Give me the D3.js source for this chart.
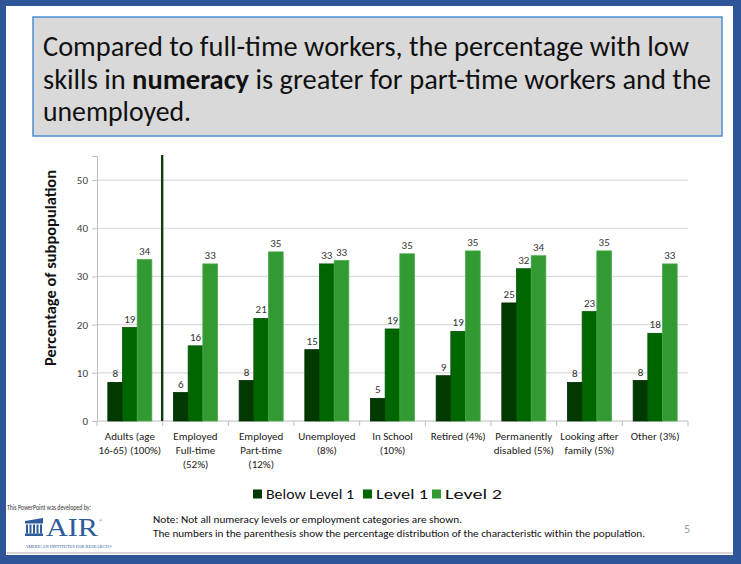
<!DOCTYPE html>
<html>
<head>
<meta charset="utf-8">
<script src="https://cdn.jsdelivr.net/npm/d3@7"></script>
<style>
  html, body { margin: 0; padding: 0; background: #fff; }
  svg { display: block; }
  text { font-family: Carlito, Calibri, "Open Sans", "Noto Sans", sans-serif; }
</style>
</head>
<body>
<svg id="chart" width="741" height="564"></svg>
<script>
// ---- data ----
const categories = [
  "Adults (age\n16-65) (100%)",
  "Employed\nFull-time\n(52%)",
  "Employed\nPart-time\n(12%)",
  "Unemployed\n(8%)",
  "In School\n(10%)",
  "Retired (4%)",
  "Permanently\ndisabled (5%)",
  "Looking after\nfamily (5%)",
  "Other (3%)"
];
const seriesNames = ["Below Level 1", "Level 1", "Level 2"];
const belowLevel1 = [8.0, 5.9, 8.4, 14.8, 4.7, 9.4, 24.5, 8.0, 8.4];
const level1      = [19.4, 15.6, 21.3, 32.6, 19.1, 18.6, 31.6, 22.7, 18.2];
const level2      = [33.5, 32.6, 35.1, 33.3, 34.7, 35.3, 34.3, 35.3, 32.6];
const yTicks = [0, 10, 20, 30, 40, 50];
const titleLines = [
  [{t: "Compared to full-time workers, the percentage with low", b: false}],
  [{t: "skills in ", b: false}, {t: "numeracy", b: true}, {t: " is greater for part-time workers and the", b: false}],
  [{t: "unemployed.", b: false}]
];
const noteLines = [
  "Note: Not all numeracy levels or employment categories are shown.",
  "The numbers in the parenthesis show the percentage distribution of the characteristic within the population."
];

const seriesValues = [belowLevel1, level1, level2];
const colors = ["#003a00", "#006600", "#339933"];
const strokes = ["#002a00", "#005500", "#45ad45"];

const svg = d3.select("#chart");

// ---- slide frame ----
svg.append("rect").attr("x", 0).attr("y", 0).attr("width", 741).attr("height", 564).attr("fill", "#2e5597");
svg.append("rect").attr("x", 6).attr("y", 6).attr("width", 727).attr("height", 549).attr("fill", "#ffffff");
svg.append("line").attr("x1", 7).attr("x2", 733).attr("y1", 553).attr("y2", 553)
  .attr("stroke", "#c8c8c8").attr("stroke-width", 1.5);

// ---- title box ----
svg.append("rect").attr("x", 33).attr("y", 17).attr("width", 689).attr("height", 119)
  .attr("fill", "#d9d9d9").attr("stroke", "#4a8fd4").attr("stroke-width", 1.5);
const titleEnds = [689, 711, 191];
const titleBase = [56, 89, 121];
titleLines.forEach((parts, i) => {
  const t = svg.append("text").attr("x", 43).attr("y", titleBase[i])
    .attr("font-size", 28).attr("fill", "#111")
    .attr("textLength", titleEnds[i] - 43).attr("lengthAdjust", "spacingAndGlyphs");
  parts.forEach(p => t.append("tspan").text(p.t).attr("font-weight", p.b ? "bold" : "normal"));
});

// ---- chart ----
const plot = {left: 97, right: 688, top: 156, bottom: 421};
const x0 = d3.scaleBand().domain(categories).range([plot.left, plot.right]);
const bw = x0.bandwidth();
const x1 = d3.scaleBand().domain(seriesNames).range([bw * 0.165, bw * 0.835]);
const y = d3.scaleLinear().domain([0, 55]).range([plot.bottom, plot.top]);

// gridlines
svg.append("g").selectAll("line").data(yTicks.filter(d => d > 0)).join("line")
  .attr("x1", plot.left).attr("x2", plot.right)
  .attr("y1", d => y(d)).attr("y2", d => y(d))
  .attr("stroke", "#d9d9d9").attr("stroke-width", 1.2);

// y axis
const yAxis = svg.append("g").attr("transform", `translate(${plot.left},0)`)
  .call(d3.axisLeft(y).tickValues(yTicks).tickSize(5).tickPadding(4));
yAxis.select(".domain").attr("stroke", "#bfbfbf");
yAxis.selectAll(".tick line").attr("stroke", "#bfbfbf");
yAxis.selectAll(".tick text").attr("font-size", 11).attr("fill", "#404040")
  .style("font-family", "Carlito, Calibri, 'Open Sans', sans-serif");

// y title
svg.append("text")
  .attr("transform", `translate(56,${(366 + 170) / 2}) rotate(-90)`)
  .attr("text-anchor", "middle").attr("font-size", 15).attr("font-weight", "bold")
  .attr("fill", "#111").attr("textLength", 196).attr("lengthAdjust", "spacingAndGlyphs")
  .text("Percentage of subpopulation");

// x axis
const xAxisG = svg.append("g");
xAxisG.append("line").attr("x1", plot.left).attr("x2", plot.right)
  .attr("y1", plot.bottom).attr("y2", plot.bottom).attr("stroke", "#bfbfbf");
const boundaries = categories.map(c => x0(c)).concat([plot.right]);
xAxisG.selectAll("line.tk").data(boundaries).join("line").attr("class", "tk")
  .attr("x1", d => d).attr("x2", d => d)
  .attr("y1", plot.bottom).attr("y2", plot.bottom + 5).attr("stroke", "#bfbfbf");

// category labels
const catG = svg.append("g").selectAll("text").data(categories).join("text")
  .attr("text-anchor", "middle").attr("font-size", 11).attr("fill", "#222")
  .attr("x", d => x0(d) + bw / 2).attr("y", 440);
catG.each(function(d) {
  const sel = d3.select(this);
  d.split("\n").forEach((ln, i) => {
    sel.append("tspan").attr("x", x0(d) + bw / 2).attr("y", 440 + i * 14.2).text(ln);
  });
});

// bars
const groups = svg.append("g").selectAll("g").data(categories).join("g")
  .attr("transform", d => `translate(${x0(d)},0)`);
groups.selectAll("rect")
  .data((d, ci) => seriesNames.map((s, si) => ({s, si, v: seriesValues[si][ci]})))
  .join("rect")
  .attr("x", d => x1(d.s)).attr("width", x1.bandwidth())
  .attr("y", d => y(d.v)).attr("height", d => y(0) - y(d.v))
  .attr("fill", d => colors[d.si]).attr("stroke", d => strokes[d.si]).attr("stroke-width", 0.8);
groups.selectAll("text.lbl")
  .data((d, ci) => seriesNames.map((s, si) => ({s, si, v: seriesValues[si][ci]})))
  .join("text").attr("class", "lbl")
  .attr("x", d => x1(d.s) + x1.bandwidth() / 2).attr("y", d => y(d.v) - 5)
  .attr("text-anchor", "middle").attr("font-size", 11).attr("fill", "#333")
  .text(d => Math.round(d.v));

// separator line after the "Adults" group
svg.append("line")
  .attr("x1", x0(categories[1]) - 0.5).attr("x2", x0(categories[1]) - 0.5)
  .attr("y1", 155).attr("y2", plot.bottom)
  .attr("stroke", "#123a12").attr("stroke-width", 2.4);

// legend
const legendX = [253, 363, 432];
const legendW = [88, 52, 57];
const lg = svg.append("g").selectAll("g").data(seriesNames).join("g")
  .attr("transform", (d, i) => `translate(${legendX[i]},494)`);
lg.append("rect").attr("x", 0).attr("y", -4.5).attr("width", 9).attr("height", 9)
  .attr("fill", (d, i) => colors[i]);
lg.append("text").attr("x", 13).attr("y", 5).attr("font-size", 14.5).attr("fill", "#111")
  .attr("textLength", (d, i) => legendW[i]).attr("lengthAdjust", "spacingAndGlyphs")
  .text(d => d);

// footer: developer credit + logo
svg.append("text").attr("x", 7).attr("y", 510).attr("font-size", 7).attr("fill", "#333")
  .attr("textLength", 84).attr("lengthAdjust", "spacingAndGlyphs")
  .text("This PowerPoint was developed by:");
const logo = svg.append("g").attr("fill", "#2e5c9a");
logo.append("path").attr("d", "M25,521 L43,518 L43,521 Z");
logo.append("rect").attr("x", 25).attr("y", 521).attr("width", 18).attr("height", 2.5);
[26, 29.5, 33, 36.5, 40].forEach(xx => logo.append("rect").attr("x", xx).attr("y", 524.5).attr("width", 2).attr("height", 9));
logo.append("rect").attr("x", 25).attr("y", 533.5).attr("width", 18).attr("height", 2.5);
svg.append("text").attr("x", 46).attr("y", 536).attr("font-size", 25)
  .style("font-family", "'Liberation Serif', 'DejaVu Serif', serif").attr("fill", "#2e5c9a")
  .attr("textLength", 52).attr("lengthAdjust", "spacingAndGlyphs").text("AIR");
svg.append("text").attr("x", 99).attr("y", 522).attr("font-size", 4)
  .style("font-family", "'Liberation Serif', serif").attr("fill", "#2e5c9a").text("®");
svg.append("text").attr("x", 25).attr("y", 548).attr("font-size", 3.6)
  .style("font-family", "'Liberation Serif', serif").attr("fill", "#2e5c9a")
  .attr("textLength", 87).attr("lengthAdjust", "spacingAndGlyphs")
  .text("AMERICAN INSTITUTES FOR RESEARCH®");

// notes
const noteEnds = [462, 645];
noteLines.forEach((ln, i) => {
  svg.append("text").attr("x", 153).attr("y", 523 + i * 14).attr("font-size", 10).attr("fill", "#111")
    .attr("textLength", noteEnds[i] - 153).attr("lengthAdjust", "spacingAndGlyphs").text(ln);
});
svg.append("text").attr("x", 684).attr("y", 533).attr("font-size", 12).attr("fill", "#a0a0a0").text("5");
</script>
</body>
</html>
